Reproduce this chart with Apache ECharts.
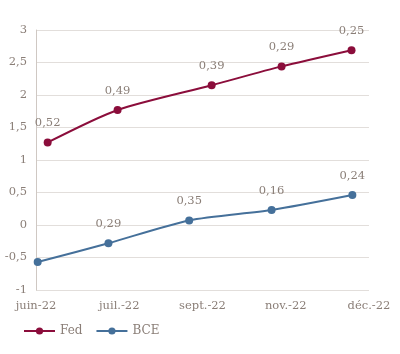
<!DOCTYPE html>
<html>
<head>
<meta charset="utf-8">
<script src="https://cdn.jsdelivr.net/npm/echarts@6/dist/echarts.min.js"></script>
<style>
  html, body { margin: 0; padding: 0; background: #fff; }
  #chart { width: 400px; height: 354px; }
</style>
</head>
<body>
<div id="chart"></div>
<script>
// axe des dates : position relative entre les mois affichés
var monthLabels = ['juin-22', 'juil.-22', 'sept.-22', 'nov.-22', 'déc.-22'];
var fedX = [0.14, 0.98, 2.11, 2.95, 3.79];
var fedY = [1.27, 1.77, 2.15, 2.44, 2.69];
var fedLabels = ['0,52', '0,49', '0,39', '0,29', '0,25'];
var bceX = [0.02, 0.87, 1.84, 2.83, 3.80];
var bceY = [-0.57, -0.28, 0.07, 0.23, 0.46];
var bceLabels = ['', '0,29', '0,35', '0,16', '0,24'];  // pas d'étiquette sur le 1er point

var textColor = '#8a7e77';
var font = "'DejaVu Serif', Georgia, serif";

function pairs(xs, ys) {
    var out = [];
    for (var i = 0; i < xs.length; i++) out.push([xs[i], ys[i]]);
    return out;
}
function fmtNum(v) {
    return String(v).replace('.', ',');
}

var myChart = echarts.init(document.getElementById('chart'));
var option = {
    animation: false,
    textStyle: { fontFamily: font },
    grid: { left: 36, right: 31, top: 30, bottom: 64 },
    legend: {
        left: 18, top: 320,
        itemWidth: 31, itemHeight: 9, itemGap: 13,
        textStyle: { color: textColor, fontSize: 12, fontFamily: font },
        data: ['Fed', 'BCE']
    },
    xAxis: {
        type: 'value',
        min: 0, max: 4, interval: 1,
        axisLine: { show: false },
        axisTick: { show: false },
        splitLine: { show: false },
        axisLabel: {
            color: textColor, fontSize: 11.5, fontFamily: font, margin: 10,
            formatter: function (v) { return monthLabels[Math.round(v)] || ''; }
        }
    },
    yAxis: {
        type: 'value',
        min: -1, max: 3, interval: 0.5,
        axisLine: { show: true, lineStyle: { color: '#cfc8c3' } },
        axisTick: { show: false },
        splitLine: { lineStyle: { color: '#e2dedb' } },
        axisLabel: { color: textColor, fontSize: 11.5, fontFamily: font, margin: 9, formatter: fmtNum }
    },
    series: [
        {
            name: 'Fed', type: 'line',
            data: pairs(fedX, fedY),
            smooth: 0.25,
            symbol: 'circle', symbolSize: 8,
            lineStyle: { width: 2, color: '#8b0d3b' },
            itemStyle: { color: '#8b0d3b' },
            label: {
                show: true, position: 'top', distance: 9,
                color: textColor, fontSize: 11.5, fontFamily: font,
                formatter: function (p) { return fedLabels[p.dataIndex]; }
            }
        },
        {
            name: 'BCE', type: 'line',
            data: pairs(bceX, bceY),
            smooth: 0.25,
            symbol: 'circle', symbolSize: 8,
            lineStyle: { width: 2, color: '#45709a' },
            itemStyle: { color: '#45709a' },
            label: {
                show: true, position: 'top', distance: 9,
                color: textColor, fontSize: 11.5, fontFamily: font,
                formatter: function (p) { return bceLabels[p.dataIndex]; }
            }
        }
    ]
};
myChart.setOption(option);
</script>
</body>
</html>
